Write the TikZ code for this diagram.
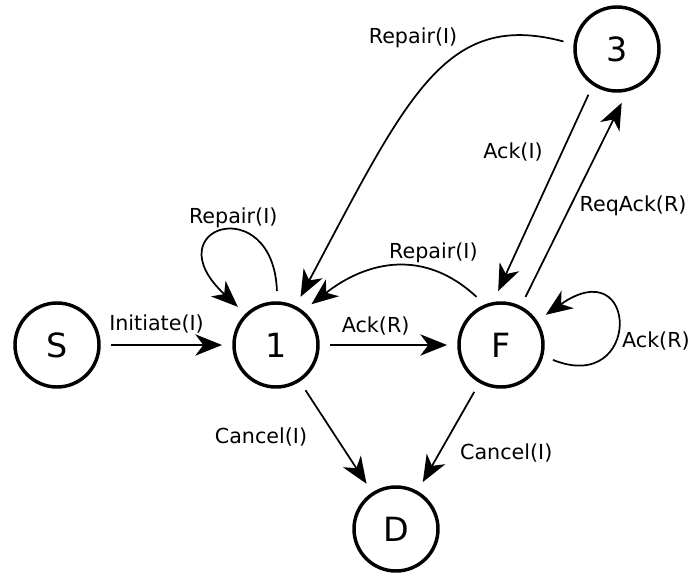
\documentclass[tikz,border=0pt]{standalone}
\usepackage{fontspec}
\setmainfont{DejaVu Sans}
\usetikzlibrary{arrows.meta}
\tikzset{
  state/.style={circle, draw=black, line width=2.6pt, minimum size=63pt, inner sep=0pt, outer sep=9pt, font=\fontsize{25}{30}\selectfont},
  trans/.style={-{Stealth[length=20pt, width=16pt, inset=6pt]}, line width=1.3pt},
  lbl/.style={font=\fontsize{15.5}{18}\selectfont, inner sep=2pt},
}
\begin{document}
\begin{tikzpicture}[x=0.75pt, y=0.75pt]
\useasboundingbox (0,0) rectangle (693,576);
% states
\node[state] (s) at (57,231) {S};
\node[state] (one) at (276,231) {1};
\node[state] (f) at (501,231) {F};
\node[state] (three) at (617,527) {3};
\node[state] (d) at (396,47) {D};
% transitions
\draw[trans] (s) -- node[lbl, above=6pt, pos=0.41] {Initiate(I)} (one);
\draw[trans] (one) -- node[lbl, above=5pt, pos=0.39] {Ack(R)} (f);
\draw[trans] (one.89) to[out=92, in=137, out distance=76pt, in distance=88pt] node[lbl, above, xshift=7pt] {Repair(I)} (one.135);
\draw[trans] (f.117) to[out=137, in=38, looseness=1.1] node[lbl, above=3pt, pos=0.27] {Repair(I)} (one.49);
\draw[trans] (three.172) to[out=165, in=62, out distance=92pt, in distance=170pt] node[lbl, left=26pt, pos=0.22] {Repair(I)} (one.63);
\draw[trans] (three.238) -- node[lbl, left=12pt, pos=0.29] {Ack(I)} (f.93);
\draw[trans] (f.63) -- node[lbl, right=4pt, pos=0.47] {ReqAck(R)} (three.275);
\draw[trans] (f.-16) to[out=-22, in=35, out distance=72pt, in distance=86pt] node[lbl, right=2pt, pos=0.4] {Ack(R)} (f.34);
\draw[trans] (one) -- node[lbl, left=19pt, pos=0.5] {Cancel(I)} (d);
\draw[trans] (f) -- node[lbl, right=13pt, pos=0.68] {Cancel(I)} (d);
\end{tikzpicture}
\end{document}
